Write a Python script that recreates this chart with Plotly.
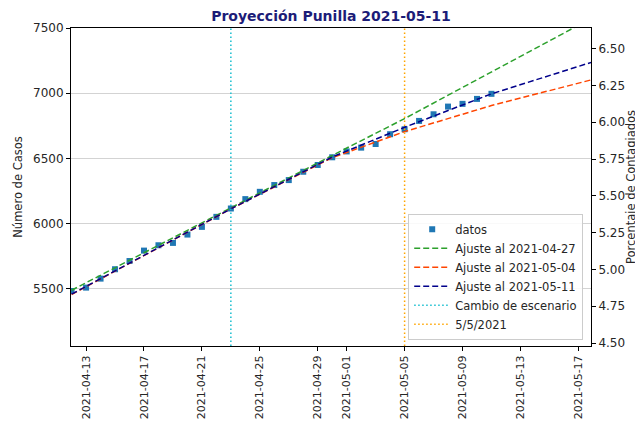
import plotly.graph_objects as go

# datos observados (casos acumulados)
fechas = ["2021-04-12", "2021-04-13", "2021-04-14", "2021-04-15", "2021-04-16",
          "2021-04-17", "2021-04-18", "2021-04-19", "2021-04-20", "2021-04-21",
          "2021-04-22", "2021-04-23", "2021-04-24", "2021-04-25", "2021-04-26",
          "2021-04-27", "2021-04-28", "2021-04-29", "2021-04-30", "2021-05-01",
          "2021-05-02", "2021-05-03", "2021-05-04", "2021-05-05", "2021-05-06",
          "2021-05-07", "2021-05-08", "2021-05-09", "2021-05-10", "2021-05-11"]
casos = [5482, 5508, 5577, 5649, 5712, 5792, 5833, 5851, 5915, 5974,
         6051, 6115, 6187, 6243, 6295, 6333, 6397, 6449, 6508, 6553,
         6582, 6610, 6685, 6723, 6787, 6838, 6897, 6918, 6956, 6995]

# curvas de ajuste
fechas_ajuste = ["2021-04-12", "2021-04-23", "2021-04-30", "2021-05-05",
                 "2021-05-11", "2021-05-18"]
ajuste_0427 = [5488, 6122, 6522, 6805, 7160, 7580]
ajuste_0504 = [5455, 6112, 6505, 6705, 6905, 7105]
ajuste_0511 = [5458, 6112, 6510, 6738, 6995, 7240]

fecha_escenario = "2021-04-23"
fecha_corte = "2021-05-05"

POBLACION = 112950
Y_MIN, Y_MAX = 5060, 7500
X_MIN, X_MAX = "2021-04-11 23:00", "2021-05-17 21:00"

ticks_x = ["2021-04-13", "2021-04-17", "2021-04-21", "2021-04-25", "2021-04-29",
           "2021-05-01", "2021-05-05", "2021-05-09", "2021-05-13", "2021-05-17"]
ticks_y = [5500, 6000, 6500, 7000, 7500]
ticks_y2 = [4.50, 4.75, 5.00, 5.25, 5.50, 5.75, 6.00, 6.25, 6.50]

FONT = "DejaVu Sans"
dash = "6px,3px"
dot = "1.5px,2.5px"

fig = go.Figure()
fig.add_trace(go.Scatter(x=fechas, y=casos, mode="markers", name="datos",
                         marker=dict(symbol="square", size=6, color="#1f77b4")))
fig.add_trace(go.Scatter(x=fechas_ajuste, y=ajuste_0427, mode="lines",
                         name="Ajuste al 2021-04-27",
                         line=dict(color="#2ca02c", width=1.5, dash=dash)))
fig.add_trace(go.Scatter(x=fechas_ajuste, y=ajuste_0504, mode="lines",
                         name="Ajuste al 2021-05-04",
                         line=dict(color="#ff4500", width=1.5, dash=dash)))
fig.add_trace(go.Scatter(x=fechas_ajuste, y=ajuste_0511, mode="lines",
                         name="Ajuste al 2021-05-11",
                         line=dict(color="#00008b", width=1.5, dash=dash)))
fig.add_trace(go.Scatter(x=[fecha_escenario, fecha_escenario], y=[Y_MIN, Y_MAX],
                         mode="lines", name="Cambio de escenario",
                         line=dict(color="#17becf", width=1.5, dash=dot)))
fig.add_trace(go.Scatter(x=[fecha_corte, fecha_corte], y=[Y_MIN, Y_MAX],
                         mode="lines", name="5/5/2021",
                         line=dict(color="#ffa500", width=1.5, dash=dot)))

# eje derecho en porcentaje de la poblacion
porcentaje = [c * 100 / POBLACION for c in casos]
fig.add_trace(go.Scatter(x=fechas, y=porcentaje, yaxis="y2", mode="markers",
                         marker=dict(opacity=0), showlegend=False, hoverinfo="skip"))

axis_common = dict(showline=True, linecolor="#000000", linewidth=1,
                   ticks="outside", ticklen=4, tickcolor="#000000",
                   tickfont=dict(family=FONT, size=12, color="#262626"))

# la pagina tiene 8px de margen propio, por eso 635x415
fig.update_layout(
    width=635, height=415,
    margin=dict(l=63, r=52, t=20, b=77),
    plot_bgcolor="white", paper_bgcolor="white",
    font=dict(family=FONT, color="#262626"),
    title=dict(text="<b>Proyección Punilla 2021-05-11</b>", x=0.5, xref="paper",
               xanchor="center", y=0.981, yanchor="middle",
               font=dict(family=FONT, size=14, color="#1c1c78")),
    xaxis=dict(range=[X_MIN, X_MAX], tickvals=ticks_x, tickformat="%Y-%m-%d",
               tickangle=-90, showgrid=False, mirror=True, automargin=False,
               **axis_common),
    yaxis=dict(range=[Y_MIN, Y_MAX], tickvals=ticks_y, showgrid=True,
               gridcolor="#d3d3d3", gridwidth=1, zeroline=False, automargin=False,
               title=dict(text="Número de Casos", standoff=8,
                          font=dict(family=FONT, size=11.5, color="#262626")),
               **axis_common),
    yaxis2=dict(range=[Y_MIN * 100 / POBLACION, Y_MAX * 100 / POBLACION],
                overlaying="y", side="right", tickvals=ticks_y2, tickformat=".2f",
                showgrid=False, zeroline=False, automargin=False,
                **axis_common),
    legend=dict(x=0.985, y=0.02, xanchor="right", yanchor="bottom",
                bgcolor="rgba(255,255,255,0.85)", bordercolor="#cccccc",
                borderwidth=1, font=dict(family=FONT, size=11.5, color="#262626"),
                tracegroupgap=0, itemwidth=36),
    showlegend=True,
)
fig.update_xaxes(tickfont=dict(size=11))

# titulo del eje derecho como anotacion para que no se corte
fig.add_annotation(text="Porcentaje de Contagiados", xref="paper", yref="paper",
                   x=1, y=0.5, xanchor="center", yanchor="middle", xshift=40,
                   textangle=-90, showarrow=False,
                   font=dict(family=FONT, size=11.5, color="#262626"))

fig.write_html("out.html")
